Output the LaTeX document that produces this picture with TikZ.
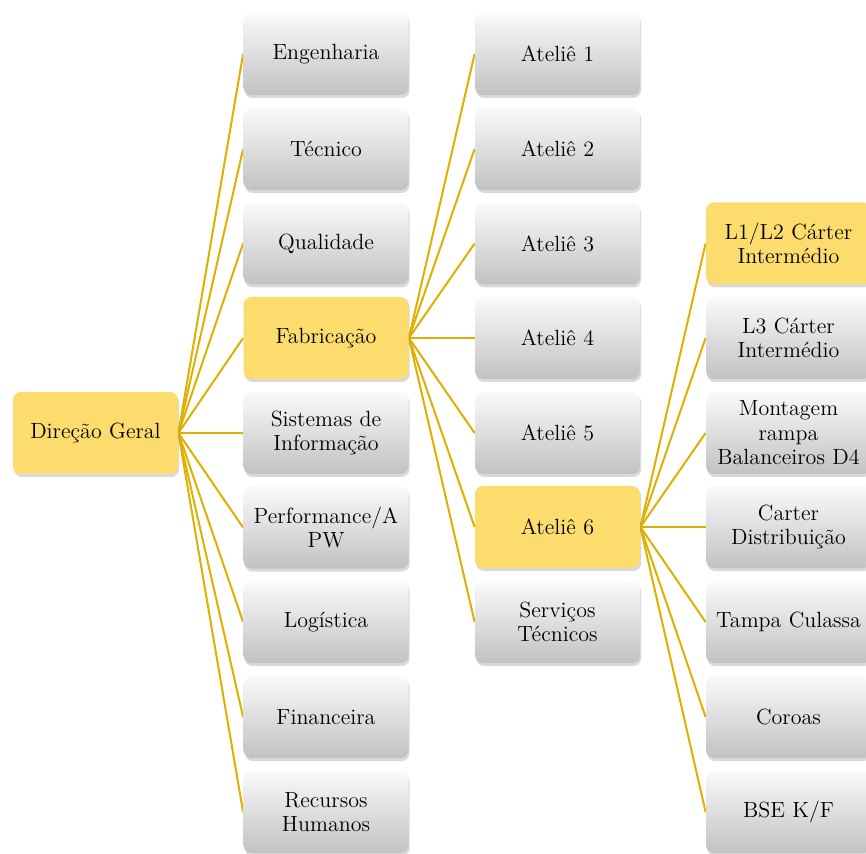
\documentclass[tikz,border=0pt]{standalone}
\usepackage{tikz}
\usetikzlibrary{shadows}
\usetikzlibrary{backgrounds}

\definecolor{goldline}{RGB}{222,176,0}
\definecolor{hiyellow}{RGB}{253,220,110}

\begin{document}
\begin{tikzpicture}[x=0.5pt, y=-0.5pt,
		box/.style={rectangle, rounded corners=4pt, minimum width=82.5pt, minimum height=41pt,
			text width=80pt, align=center, inner sep=1pt, font=\fontsize{11}{12.3}\selectfont,
			drop shadow={shadow xshift=0.6pt, shadow yshift=-1.5pt, opacity=0.3}},
		plain/.style={box, top color=black!2, bottom color=black!24},
		hilite/.style={box, fill=hiyellow},
		link/.style={draw=goldline, line width=1pt}]
				\useasboundingbox (0,0) rectangle (866,854);
				
				\node[hilite] (DG) at (95.5,433) {Direção Geral};
				
				\node[plain] (Eng) at (326,54) {Engenharia};
				\node[plain] (Tec) at (326,149) {Técnico};
				\node[plain] (Qual) at (326,243.5) {Qualidade};
				\node[hilite] (Fab) at (326,338) {Fabricação};
				\node[plain] (SI) at (326,433) {Sistemas de\\Informação};
				\node[plain] (Perf) at (326,527.5) {Performance/A\\PW};
				\node[plain] (Log) at (326,622) {Logística};
				\node[plain] (Fin) at (326,717) {Financeira};
				\node[plain] (RH) at (326,812) {Recursos\\Humanos};
				
				\node[plain] (A1) at (557.5,54) {Ateliê 1};
				\node[plain] (A2) at (557.5,149) {Ateliê 2};
				\node[plain] (A3) at (557.5,243.5) {Ateliê 3};
				\node[plain] (A4) at (557.5,338) {Ateliê 4};
				\node[plain] (A5) at (557.5,433) {Ateliê 5};
				\node[hilite] (A6) at (557.5,527) {Ateliê 6};
				\node[plain] (ST) at (557.5,622) {Serviços\\Técnicos};
				
				\node[hilite] (L12) at (788.5,243.5) {L1/L2 Cárter\\Intermédio};
				\node[plain] (L3) at (788.5,338) {L3 Cárter\\Intermédio};
				\node[plain] (Mont) at (788.5,433) {Montagem\\rampa\\Balanceiros D4};
				\node[plain] (Cart) at (788.5,527) {Carter\\Distribuição};
				\node[plain] (Tamp) at (788.5,622) {Tampa Culassa};
				\node[plain] (Cor) at (788.5,717) {Coroas};
				\node[plain] (BSE) at (788.5,812) {BSE K/F};
				
				\begin{scope}[on background layer]
				\draw[link]  (DG.east) -- (Eng.west);
				\draw[link]  (DG.east) -- (Tec.west);
				\draw[link]  (DG.east) -- (Qual.west);
				\draw[link]  (DG.east) -- (Fab.west);
				\draw[link]  (DG.east) -- (SI.west);
				\draw[link]  (DG.east) -- (Perf.west);
				\draw[link]  (DG.east) -- (Log.west);
				\draw[link]  (DG.east) -- (Fin.west);
				\draw[link]  (DG.east) -- (RH.west);
				
				\draw[link]  (Fab.east) -- (A1.west);
				\draw[link]  (Fab.east) -- (A2.west);
				\draw[link]  (Fab.east) -- (A3.west);
				\draw[link]  (Fab.east) -- (A4.west);
				\draw[link]  (Fab.east) -- (A5.west);
				\draw[link]  (Fab.east) -- (A6.west);
				\draw[link]  (Fab.east) -- (ST.west);
				
				\draw[link]  (A6.east) -- (L12.west);
				\draw[link]  (A6.east) -- (L3.west);
				\draw[link]  (A6.east) -- (Mont.west);
				\draw[link]  (A6.east) -- (Cart.west);
				\draw[link]  (A6.east) -- (Tamp.west);
				\draw[link]  (A6.east) -- (Cor.west);
				\draw[link]  (A6.east) -- (BSE.west);
				\end{scope}
			\end{tikzpicture}
\end{document}
